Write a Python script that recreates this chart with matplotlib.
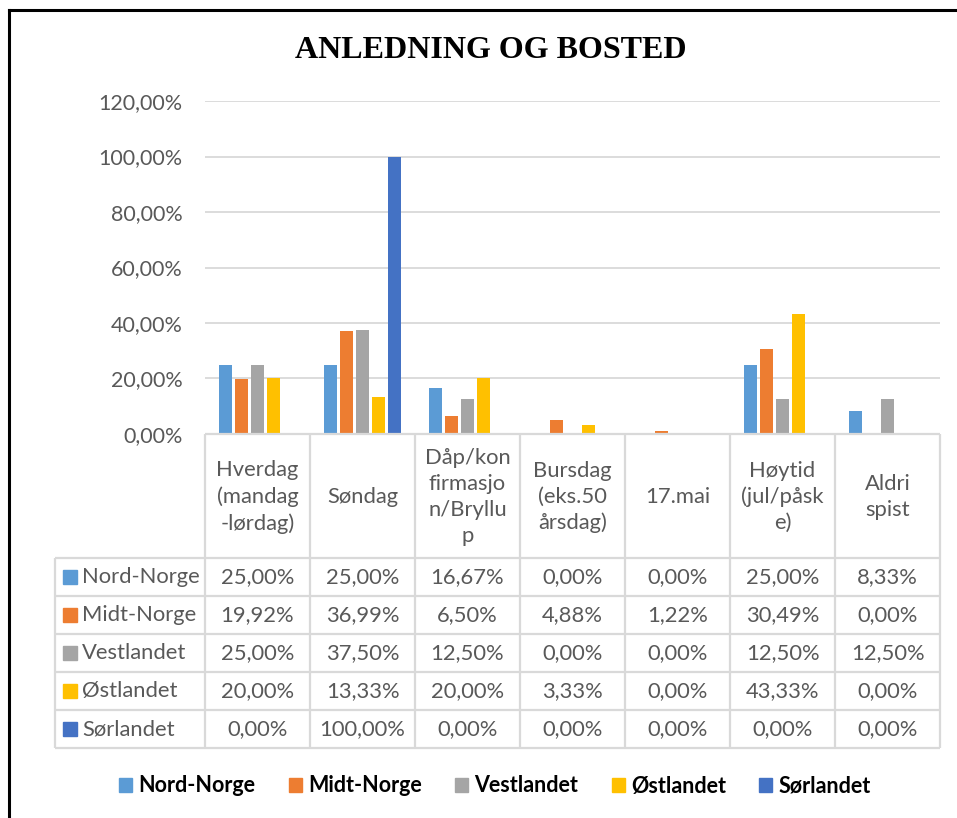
import matplotlib.pyplot as plt
from matplotlib.patches import Patch
from matplotlib.lines import Line2D

# data lest av figuren
kategorier = ['Hverdag\n(mandag\n-lørdag)', 'Søndag', 'Dåp/kon\nfirmasjo\nn/Bryllu\np',
              'Bursdag\n(eks.50\nårsdag)', '17.mai', 'Høytid\n(jul/påsk\ne)', 'Aldri\nspist']
regioner = ['Nord-Norge', 'Midt-Norge', 'Vestlandet', 'Østlandet', 'Sørlandet']
nord_norge = [25.00, 25.00, 16.67, 0.00, 0.00, 25.00, 8.33]
midt_norge = [19.92, 36.99, 6.50, 4.88, 1.22, 30.49, 0.00]
vestlandet = [25.00, 37.50, 12.50, 0.00, 0.00, 12.50, 12.50]
ostlandet = [20.00, 13.33, 20.00, 3.33, 0.00, 43.33, 0.00]
sorlandet = [0.00, 100.00, 0.00, 0.00, 0.00, 0.00, 0.00]
serier = [nord_norge, midt_norge, vestlandet, ostlandet, sorlandet]
farger = ['#5B9BD5', '#ED7D31', '#A5A5A5', '#FFC000', '#4472C4']
yticks = [0, 20, 40, 60, 80, 100, 120]

W, H = 957, 818
GRA = '#595959'
LINJE = '#D9D9D9'
FONT = 'Lato'
FS = 15.8


def fmt(v):
    return f'{v:.2f}%'.replace('.', ',')


def px(l, b, r, t):
    return [l / W, 1 - b / H, (r - l) / W, (b - t) / H]


fig = plt.figure(figsize=(W / 100, H / 100), dpi=100)

# stolpediagram
ax = fig.add_axes(px(205, 434, 940, 101))
bredde = 13 / 105
steg = 16 / 105
for k, (verdier, farge) in enumerate(zip(serier, farger)):
    x = [i + (k - 2) * steg for i in range(len(kategorier))]
    ax.bar(x, verdier, width=bredde, color=farge, zorder=3)

ax.set_xlim(-0.5, len(kategorier) - 0.5)
ax.set_ylim(0, 120)
ax.set_yticks(yticks)
ax.set_yticklabels([fmt(v) for v in yticks], color=GRA, fontsize=15.5, family=FONT)
ax.tick_params(axis='y', length=0, pad=16)
ax.set_xticks([])
ax.grid(axis='y', color=LINJE, linewidth=1.3, zorder=0)
for s in ax.spines.values():
    s.set_visible(False)

# datatabell
tab = fig.add_axes(px(55, 748, 940, 434))
xmin = -0.5 - 150 / 105
xmax = len(kategorier) - 0.5
tab.set_xlim(xmin, xmax)
tab.set_ylim(314, 0)
tab.axis('off')
hode = 124
rad = 38

lkw = dict(color=LINJE, lw=1.6, clip_on=False, solid_capstyle='butt')
tab.plot([-0.5, xmax], [0, 0], **lkw)
for r in range(len(regioner) + 1):
    y = hode + rad * r
    tab.plot([xmin, xmax], [y, y], **lkw)
for c in range(len(kategorier) + 1):
    tab.plot([c - 0.5, c - 0.5], [0, 314], **lkw)
tab.plot([xmin, xmin], [hode, 314], **lkw)

for i, navn in enumerate(kategorier):
    tab.text(i, hode / 2 + 1, navn, ha='center', va='center', color=GRA,
             fontsize=FS, family=FONT, linespacing=1.36)

for r, (navn, verdier, farge) in enumerate(zip(regioner, serier, farger)):
    ym = hode + rad * r + rad / 2
    tab.plot([xmin + 15 / 105], [ym], marker='s', markersize=9.5, color=farge,
             linestyle='none', clip_on=False)
    tab.text(xmin + 27 / 105, ym, navn, ha='left', va='center', color=GRA,
             fontsize=FS, family=FONT)
    for i, v in enumerate(verdier):
        tab.text(i, ym, fmt(v), ha='center', va='center', color=GRA,
                 fontsize=FS, family=FONT)

# tittel
fig.text(490.5 / W, 1 - 50 / H, 'ANLEDNING OG BOSTED', ha='center', va='center',
         family='Liberation Serif', weight='bold', fontsize=23, color='black')

# forklaring
handles = [Patch(color=f) for f in farger]
fig.legend(handles, regioner, loc='center', bbox_to_anchor=(495 / W, 1 - 786 / H),
           ncol=5, frameon=False, prop={'family': FONT, 'weight': 'bold', 'size': 15.5},
           handlelength=0.6, handleheight=0.6, handletextpad=0.3, columnspacing=1.55)

# ramme
fig.add_artist(Line2D([8.5 / W, 8.5 / W], [0, 1 - 9.5 / H], color='black', lw=2.2))
fig.add_artist(Line2D([8.5 / W, 1], [1 - 9.5 / H, 1 - 9.5 / H], color='black', lw=2.2))

fig.savefig('out.png', dpi=100)
